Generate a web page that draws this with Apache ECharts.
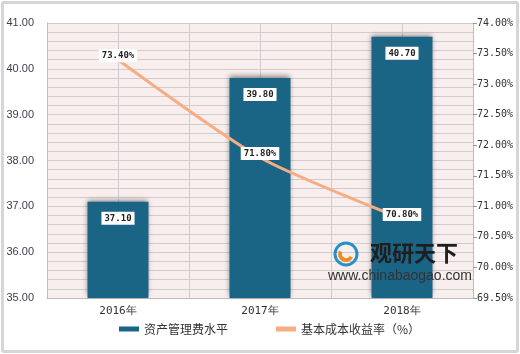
<!DOCTYPE html>
<html>
<head>
<meta charset="utf-8">
<script src="https://cdn.jsdelivr.net/npm/echarts@6/dist/echarts.min.js"></script>
<style>
html,body{margin:0;padding:0;background:#fff;}
#wrap{position:relative;width:520px;height:354px;}
#main{width:520px;height:354px;}
#frame{position:absolute;left:1px;top:1px;width:512px;height:346px;border:3px solid #d6d6d6;border-radius:3px;pointer-events:none;}
</style>
</head>
<body>
<div id="wrap">
<div id="main"></div>
<div id="frame"></div>
</div>
<script>
var years = ['2016年', '2017年', '2018年'];
var fee = [37.10, 39.80, 40.70];   // 资产管理费水平
var rate = [73.40, 71.80, 70.80];  // 基本成本收益率（%）
var feeAxis = {min: 35, max: 41, step: 1};
var rateAxis = {min: 69.5, max: 74, step: 0.5};

var myChart = echarts.init(document.getElementById('main'));
var lineColor = '#d0cccc';

var option = {
    animation: false,
    grid: {
        left: 47, right: 47, top: 23, bottom: 56,
        show: true,
        backgroundColor: '#f8eeee',
        borderWidth: 0
    },
    legend: {
        bottom: 14,
        left: 114,
        itemGap: 48,
        itemWidth: 20,
        itemHeight: 5,
        textStyle: {color: '#333', fontSize: 12, fontFamily: 'Noto Sans CJK SC'},
        data: [
            {name: '资产管理费水平', icon: 'rect'},
            {name: '基本成本收益率（%）', icon: 'rect', itemStyle: {color: '#f6ad83'}}
        ]
    },
    xAxis: [
        {
            type: 'category',
            data: years,
            axisLine: {lineStyle: {color: '#bdbdbd'}},
            axisTick: {show: false},
            axisLabel: {color: '#333', fontSize: 11, margin: 8, fontFamily: 'DejaVu Sans Mono'},
            splitLine: {show: false}
        },
        {
            type: 'value',
            min: 0, max: 6, interval: 1,
            show: true,
            position: 'bottom',
            axisLine: {show: false},
            axisTick: {show: false},
            axisLabel: {show: false},
            splitLine: {show: true, lineStyle: {color: lineColor, width: 1}}
        }
    ],
    yAxis: [
        {
            type: 'value',
            min: feeAxis.min, max: feeAxis.max, interval: feeAxis.step,
            axisLine: {show: true, lineStyle: {color: '#bdbdbd'}},
            axisTick: {show: false},
            axisLabel: {
                color: '#3c3c50', fontSize: 11, margin: 13, fontFamily: 'Arial',
                formatter: function (v) { return v.toFixed(2); }
            },
            splitLine: {show: true, lineStyle: {color: lineColor}},
            minorTick: {show: false, splitNumber: 5},
            minorSplitLine: {show: true, lineStyle: {color: lineColor}}
        },
        {
            type: 'value',
            min: rateAxis.min, max: rateAxis.max, interval: rateAxis.step,
            axisLine: {show: true, lineStyle: {color: '#bdbdbd'}},
            axisTick: {show: true, length: 4, lineStyle: {color: '#999'}},
            axisLabel: {
                color: '#333', fontSize: 10, margin: 4, fontFamily: 'DejaVu Sans Mono',
                formatter: function (v) { return v.toFixed(2) + '%'; }
            },
            splitLine: {show: false}
        }
    ],
    series: [
        {
            name: '资产管理费水平',
            type: 'bar',
            data: fee,
            barWidth: 61,
            itemStyle: {
                color: '#1a6586',
                shadowColor: 'rgba(0,0,0,0.45)',
                shadowBlur: 5,
                shadowOffsetX: -1,
                shadowOffsetY: -2
            },
            label: {
                show: true,
                position: 'insideTop',
                distance: 10,
                color: '#222',
                fontSize: 9,
                fontWeight: 'bold',
                fontFamily: 'DejaVu Sans Mono',
                backgroundColor: '#fff',
                padding: [2, 3],
                formatter: function (p) { return p.value.toFixed(2); }
            }
        },
        {
            name: '基本成本收益率（%）',
            type: 'line',
            yAxisIndex: 1,
            data: rate,
            smooth: 0.25,
            symbol: 'circle',
            symbolSize: 1,
            lineStyle: {color: '#f6ad83', width: 3},
            itemStyle: {color: '#f6ad83'},
            label: {
                show: true,
                position: 'inside',
                offset: [0, -4],
                color: '#222',
                fontSize: 9,
                fontWeight: 'bold',
                fontFamily: 'DejaVu Sans Mono',
                backgroundColor: '#fff',
                padding: [2, 3],
                formatter: function (p) { return p.value.toFixed(2) + '%'; }
            },
            z: 5
        }
    ],
    graphic: [
        {
            type: 'text', left: 370, top: 242, z: 10,
            style: {text: '观研天下', fill: '#1e1e1e', font: 'bold 22px "Noto Sans CJK SC"'}
        },
        {
            type: 'text', left: 328, top: 269, z: 10,
            style: {text: 'www.chinabaogao.com', fill: '#333', font: '14px Arial'}
        },
        {
            type: 'circle', shape: {cx: 346, cy: 254, r: 11}, z: 10,
            style: {fill: 'none', stroke: '#2a8fc6', lineWidth: 3}
        },
        {
            type: 'arc', shape: {cx: 346, cy: 254, r: 6, startAngle: 0.5, endAngle: 3.6}, z: 10,
            style: {fill: 'none', stroke: '#f08a24', lineWidth: 4}
        }
    ]
};

myChart.setOption(option);
</script>
</body>
</html>
